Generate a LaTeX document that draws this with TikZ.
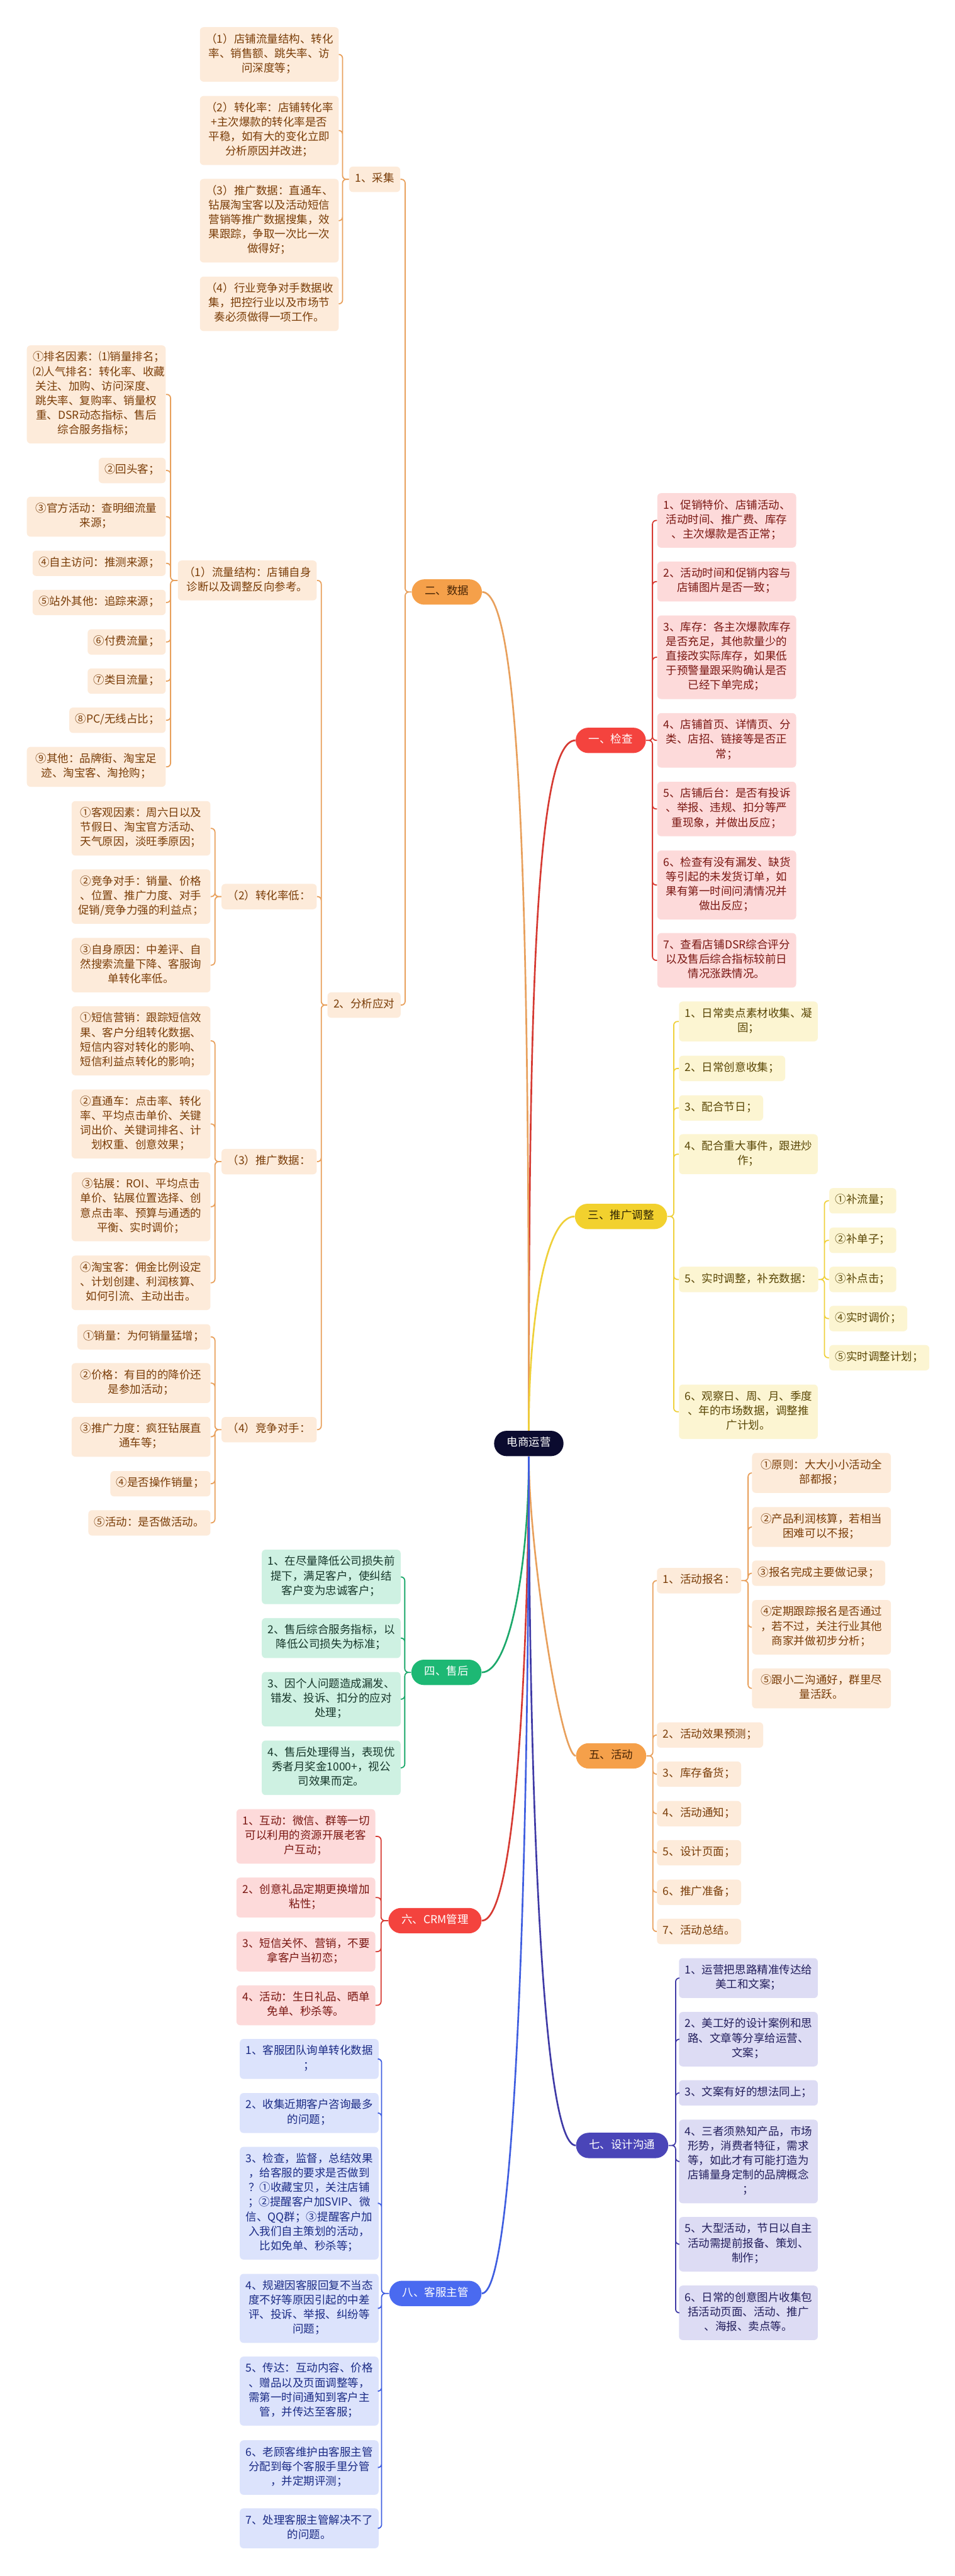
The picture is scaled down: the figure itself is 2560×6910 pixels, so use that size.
\documentclass[tikz,border=0pt]{standalone}
\usepackage{fontspec}
\setmainfont{Noto Sans CJK SC}
\usepackage{tikz}
\usetikzlibrary{calc}

\definecolor{rootfill}{HTML}{0B0B2F}
\definecolor{oHub}{HTML}{F5A04A}
\definecolor{oFill}{HTML}{FDEBDA}
\definecolor{oText}{HTML}{7A3D08}
\definecolor{oLine}{HTML}{E8A05C}
\definecolor{rHub}{HTML}{F4433E}
\definecolor{rFill}{HTML}{FDDADA}
\definecolor{rText}{HTML}{7A1712}
\definecolor{rLine}{HTML}{D63A32}
\definecolor{yHub}{HTML}{F2D12E}
\definecolor{yFill}{HTML}{FCF5D2}
\definecolor{yText}{HTML}{5A4706}
\definecolor{yLine}{HTML}{EFD03A}
\definecolor{gHub}{HTML}{1DB874}
\definecolor{gFill}{HTML}{CEF1E2}
\definecolor{gText}{HTML}{16362A}
\definecolor{gLine}{HTML}{1CA86B}
\definecolor{iHub}{HTML}{4A45B8}
\definecolor{iFill}{HTML}{DDDCF4}
\definecolor{iText}{HTML}{221E5C}
\definecolor{iLine}{HTML}{3F3AA6}
\definecolor{bHub}{HTML}{4A6AF0}
\definecolor{bFill}{HTML}{DCE3FC}
\definecolor{bText}{HTML}{1B2B85}
\definecolor{bLine}{HTML}{3F5EE0}

\newcommand\mapfont{\fontsize{8.4pt}{11.1pt}\selectfont}

\begin{document}
\begin{tikzpicture}[x=0.01cm, y=-0.01cm,
  box/.style={font=\mapfont, align=center, inner xsep=0.16cm, inner ysep=0.145cm,
    rounded corners=0.1cm, execute at begin node=\strut, execute at end node=\strut},
  leaf/.style={box, text width=3.4cm, fill=#1Fill, text=#1Text},
  tag/.style={box, fill=#1Fill, text=#1Text},
  hub/.style={box, inner xsep=0.35cm, rounded corners=0.34cm, fill=#1Hub},
  root/.style={box, inner xsep=0.34cm, rounded corners=0.34cm, fill=rootfill, text=white},
  link/.style={draw=#1Line, line width=0.03cm, rounded corners=0.1cm},
  trunk/.style={draw=#1Line, line width=0.045cm},
]
\fill[white] (0,0) rectangle (2560,6910);
\useasboundingbox (0,0) rectangle (2560,6910);

%==== Mitte ====
\node[root] (ds) at (1418,3872) {电商运营};

%==== 一、检查 ====
\node[hub=r, text=white, anchor=west] (jc) at (1543,1986) {一、检查};
\node[leaf=r, anchor=west] (jc1) at (1762,1396) {1、促销特价、店铺活动、\\活动时间、推广费、库存\\、主次爆款是否正常；};
\node[leaf=r, anchor=west] (jc2) at (1762,1560) {2、活动时间和促销内容与\\店铺图片是否一致；};
\node[leaf=r, anchor=west] (jc3) at (1762,1763) {3、库存：各主次爆款库存\\是否充足，其他款量少的\\直接改实际库存，如果低\\于预警量跟采购确认是否\\已经下单完成；};
\node[leaf=r, anchor=west] (jc4) at (1762,1986) {4、店铺首页、详情页、分\\类、店招、链接等是否正\\常；};
\node[leaf=r, anchor=west] (jc5) at (1762,2170) {5、店铺后台：是否有投诉\\、举报、违规、扣分等严\\重现象，并做出反应；};
\node[leaf=r, anchor=west] (jc6) at (1762,2374) {6、检查有没有漏发、缺货\\等引起的未发货订单，如\\果有第一时间问清情况并\\做出反应；};
\node[leaf=r, anchor=west] (jc7) at (1762,2576) {7、查看店铺DSR综合评分\\以及售后综合指标较前日\\情况涨跌情况。};
\draw[link=r] (jc.east) -- ++(17,0) |- (jc1.west) (jc.east) -- ++(17,0) |- (jc2.west)
  (jc.east) -- ++(17,0) |- (jc3.west) (jc.east) -- ++(17,0) |- (jc4.west)
  (jc.east) -- ++(17,0) |- (jc5.west) (jc.east) -- ++(17,0) |- (jc6.west)
  (jc.east) -- ++(17,0) |- (jc7.west);

%==== 二、数据 ====
\node[hub=o, text=oText!60!black, anchor=east] (sj) at (1293,1588) {二、数据};
\node[tag=o, anchor=east] (cj) at (1074,481) {1、采集};
\node[leaf=o, anchor=east] (cj1) at (909,146) {（1）店铺流量结构、转化\\率、销售额、跳失率、访\\问深度等；};
\node[leaf=o, anchor=east] (cj2) at (909,350) {（2）转化率：店铺转化率\\+主次爆款的转化率是否\\平稳，如有大的变化立即\\分析原因并改进；};
\node[leaf=o, anchor=east] (cj3) at (909,592) {（3）推广数据：直通车、\\钻展淘宝客以及活动短信\\营销等推广数据搜集，效\\果跟踪，争取一次比一次\\做得好；};
\node[leaf=o, anchor=east] (cj4) at (909,815) {（4）行业竞争对手数据收\\集，把控行业以及市场节\\奏必须做得一项工作。};
\node[tag=o, anchor=east] (fx) at (1075,2696) {2、分析应对};

\node[leaf=o, anchor=east] (ll) at (850,1557) {（1）流量结构：店铺自身\\诊断以及调整反向参考。};
\node[leaf=o, anchor=east] (ll1) at (445,1058) {①排名因素：⑴销量排名；\\⑵人气排名：转化率、收藏\\关注、加购、访问深度、\\跳失率、复购率、销量权\\重、DSR动态指标、售后\\综合服务指标；};
\node[tag=o, anchor=east] (ll2) at (445,1262) {②回头客；};
\node[leaf=o, anchor=east] (ll3) at (445,1386) {③官方活动：查明细流量\\来源；};
\node[tag=o, anchor=east] (ll4) at (445,1511) {④自主访问：推测来源；};
\node[tag=o, anchor=east] (ll5) at (445,1616) {⑤站外其他：追踪来源；};
\node[tag=o, anchor=east] (ll6) at (445,1722) {⑥付费流量；};
\node[tag=o, anchor=east] (ll7) at (445,1827) {⑦类目流量；};
\node[tag=o, anchor=east] (ll8) at (445,1932) {⑧PC/无线占比；};
\node[leaf=o, anchor=east] (ll9) at (445,2057) {⑨其他：品牌街、淘宝足\\迹、淘宝客、淘抢购；};

\node[tag=o, anchor=east, minimum width=2.53cm] (zh) at (850,2405) {（2）转化率低：};
\node[leaf=o, anchor=east] (zh1) at (565,2222) {①客观因素：周六日以及\\节假日、淘宝官方活动、\\天气原因，淡旺季原因；};
\node[leaf=o, anchor=east] (zh2) at (565,2405) {②竞争对手：销量、价格\\、位置、推广力度、对手\\促销/竞争力强的利益点；};
\node[leaf=o, anchor=east] (zh3) at (565,2589) {③自身原因：中差评、自\\然搜索流量下降、客服询\\单转化率低。};

\node[tag=o, anchor=east, minimum width=2.53cm] (tgs) at (850,3116) {（3）推广数据：};
\node[leaf=o, anchor=east] (tgs1) at (565,2792) {①短信营销：跟踪短信效\\果、客户分组转化数据、\\短信内容对转化的影响、\\短信利益点转化的影响；};
\node[leaf=o, anchor=east] (tgs2) at (565,3015) {②直通车：点击率、转化\\率、平均点击单价、关键\\词出价、关键词排名、计\\划权重、创意效果；};
\node[leaf=o, anchor=east] (tgs3) at (565,3237) {③钻展：ROI、平均点击\\单价、钻展位置选择、创\\意点击率、预算与通透的\\平衡、实时调价；};
\node[leaf=o, anchor=east] (tgs4) at (565,3441) {④淘宝客：佣金比例设定\\、计划创建、利润核算、\\如何引流、主动出击。};

\node[tag=o, anchor=east, minimum width=2.53cm] (jz) at (850,3835) {（4）竞争对手：};
\node[tag=o, anchor=east] (jz1) at (565,3586) {①销量：为何销量猛增；};
\node[leaf=o, anchor=east] (jz2) at (565,3710) {②价格：有目的的降价还\\是参加活动；};
\node[leaf=o, anchor=east] (jz3) at (565,3854) {③推广力度：疯狂钻展直\\通车等；};
\node[tag=o, anchor=east] (jz4) at (565,3980) {④是否操作销量；};
\node[tag=o, anchor=east] (jz5) at (565,4085) {⑤活动：是否做活动。};

\draw[link=o] (sj.west) -- ++(-17,0) |- (cj.east) (sj.west) -- ++(-17,0) |- (fx.east);
\draw[link=o] (cj.west) -- ++(-17,0) |- (cj1.east) (cj.west) -- ++(-17,0) |- (cj2.east)
  (cj.west) -- ++(-17,0) |- (cj3.east) (cj.west) -- ++(-17,0) |- (cj4.east);
\draw[link=o] (fx.west) -- ++(-16,0) |- (ll.east) (fx.west) -- ++(-16,0) |- (zh.east)
  (fx.west) -- ++(-16,0) |- (tgs.east) (fx.west) -- ++(-16,0) |- (jz.east);
\draw[link=o] (ll.west) -- ++(-19,0) |- (ll1.east) (ll.west) -- ++(-19,0) |- (ll2.east)
  (ll.west) -- ++(-19,0) |- (ll3.east) (ll.west) -- ++(-19,0) |- (ll4.east)
  (ll.west) -- ++(-19,0) |- (ll5.east) (ll.west) -- ++(-19,0) |- (ll6.east)
  (ll.west) -- ++(-19,0) |- (ll7.east) (ll.west) -- ++(-19,0) |- (ll8.east)
  (ll.west) -- ++(-19,0) |- (ll9.east);
\draw[link=o] (zh.west) -- ++(-17,0) |- (zh1.east) (zh.west) -- ++(-17,0) |- (zh2.east)
  (zh.west) -- ++(-17,0) |- (zh3.east);
\draw[link=o] (tgs.west) -- ++(-17,0) |- (tgs1.east) (tgs.west) -- ++(-17,0) |- (tgs2.east)
  (tgs.west) -- ++(-17,0) |- (tgs3.east) (tgs.west) -- ++(-17,0) |- (tgs4.east);
\draw[link=o] (jz.west) -- ++(-17,0) |- (jz1.east) (jz.west) -- ++(-17,0) |- (jz2.east)
  (jz.west) -- ++(-17,0) |- (jz3.east) (jz.west) -- ++(-17,0) |- (jz4.east)
  (jz.west) -- ++(-17,0) |- (jz5.east);

%==== 三、推广调整 ====
\node[hub=y, text=yText!50!black, anchor=west] (tg) at (1541,3263) {三、推广调整};
\node[leaf=y, anchor=west] (tg1) at (1820,2740) {1、日常卖点素材收集、凝\\固；};
\node[tag=y, anchor=west] (tg2) at (1820,2866) {2、日常创意收集；};
\node[tag=y, anchor=west] (tg3) at (1820,2972) {3、配合节日；};
\node[leaf=y, anchor=west] (tg4) at (1820,3096) {4、配合重大事件，跟进炒\\作；};
\node[tag=y, anchor=west] (tg5) at (1820,3432) {5、实时调整，补充数据：};
\node[leaf=y, anchor=west] (tg6) at (1820,3787) {6、观察日、周、月、季度\\、年的市场数据，调整推\\广计划。};
\node[tag=y, anchor=west] (tg5a) at (2223,3221) {①补流量；};
\node[tag=y, anchor=west] (tg5b) at (2223,3327) {②补单子；};
\node[tag=y, anchor=west] (tg5c) at (2223,3432) {③补点击；};
\node[tag=y, anchor=west] (tg5d) at (2223,3537) {④实时调价；};
\node[tag=y, anchor=west] (tg5e) at (2223,3642) {⑤实时调整计划；};
\draw[link=y] (tg.east) -- ++(17,0) |- (tg1.west) (tg.east) -- ++(17,0) |- (tg2.west)
  (tg.east) -- ++(17,0) |- (tg3.west) (tg.east) -- ++(17,0) |- (tg4.west)
  (tg.east) -- ++(17,0) |- (tg5.west) (tg.east) -- ++(17,0) |- (tg6.west);
\draw[link=y] (tg5.east) -- ++(16,0) |- (tg5a.west) (tg5.east) -- ++(16,0) |- (tg5b.west)
  (tg5.east) -- ++(16,0) |- (tg5c.west) (tg5.east) -- ++(16,0) |- (tg5d.west)
  (tg5.east) -- ++(16,0) |- (tg5e.west);

%==== 四、售后 ====
\node[hub=g, text=white, anchor=east] (sh) at (1292,4486) {四、售后};
\node[leaf=g, anchor=east] (sh1) at (1075,4230) {1、在尽量降低公司损失前\\提下，满足客户，使纠结\\客户变为忠诚客户；};
\node[leaf=g, anchor=east] (sh2) at (1075,4394) {2、售后综合服务指标，以\\降低公司损失为标准；};
\node[leaf=g, anchor=east] (sh3) at (1075,4558) {3、因个人问题造成漏发、\\错发、投诉、扣分的应对\\处理；};
\node[leaf=g, anchor=east] (sh4) at (1075,4742) {4、售后处理得当，表现优\\秀者月奖金1000+，视公\\司效果而定。};
\draw[link=g] (sh.west) -- ++(-17,0) |- (sh1.east) (sh.west) -- ++(-17,0) |- (sh2.east)
  (sh.west) -- ++(-17,0) |- (sh3.east) (sh.west) -- ++(-17,0) |- (sh4.east);

%==== 五、活动 ====
\node[hub=o, text=oText!60!black, anchor=west] (hd) at (1544,4710) {五、活动};
\node[tag=o, anchor=west] (hd1) at (1761,4240) {1、活动报名：};
\node[tag=o, anchor=west] (hd2) at (1761,4654) {2、活动效果预测；};
\node[tag=o, anchor=west, minimum width=2.22cm] (hd3) at (1761,4759) {3、库存备货；};
\node[tag=o, anchor=west, minimum width=2.22cm] (hd4) at (1761,4865) {4、活动通知；};
\node[tag=o, anchor=west, minimum width=2.22cm] (hd5) at (1761,4970) {5、设计页面；};
\node[tag=o, anchor=west, minimum width=2.22cm] (hd6) at (1761,5076) {6、推广准备；};
\node[tag=o, anchor=west, minimum width=2.22cm] (hd7) at (1761,5181) {7、活动总结。};
\node[leaf=o, anchor=west] (hd1a) at (2016,3951) {①原则：大大小小活动全\\部都报；};
\node[leaf=o, anchor=west] (hd1b) at (2016,4096) {②产品利润核算，若相当\\困难可以不报；};
\node[tag=o, anchor=west] (hd1c) at (2016,4220) {③报名完成主要做记录；};
\node[leaf=o, anchor=west] (hd1d) at (2016,4365) {④定期跟踪报名是否通过\\，若不过，关注行业其他\\商家并做初步分析；};
\node[leaf=o, anchor=west] (hd1e) at (2016,4529) {⑤跟小二沟通好，群里尽\\量活跃。};
\draw[link=o] (hd.east) -- ++(17,0) |- (hd1.west) (hd.east) -- ++(17,0) |- (hd2.west)
  (hd.east) -- ++(17,0) |- (hd3.west) (hd.east) -- ++(17,0) |- (hd4.west)
  (hd.east) -- ++(17,0) |- (hd5.west) (hd.east) -- ++(17,0) |- (hd6.west)
  (hd.east) -- ++(17,0) |- (hd7.west);
\draw[link=o] (hd1.east) -- ++(18,0) |- (hd1a.west) (hd1.east) -- ++(18,0) |- (hd1b.west)
  (hd1.east) -- ++(18,0) |- (hd1c.west) (hd1.east) -- ++(18,0) |- (hd1d.west)
  (hd1.east) -- ++(18,0) |- (hd1e.west);

%==== 六、CRM管理 ====
\node[hub=r, text=white, anchor=east] (crm) at (1292,5152) {六、CRM管理};
\node[leaf=r, anchor=east] (crm1) at (1007,4926) {1、互动：微信、群等一切\\可以利用的资源开展老客\\户互动；};
\node[leaf=r, anchor=east] (crm2) at (1007,5090) {2、创意礼品定期更换增加\\粘性；};
\node[leaf=r, anchor=east] (crm3) at (1007,5235) {3、短信关怀、营销，不要\\拿客户当初恋；};
\node[leaf=r, anchor=east] (crm4) at (1007,5379) {4、活动：生日礼品、晒单\\免单、秒杀等。};
\draw[link=r] (crm.west) -- ++(-19,0) |- (crm1.east) (crm.west) -- ++(-19,0) |- (crm2.east)
  (crm.west) -- ++(-19,0) |- (crm3.east) (crm.west) -- ++(-19,0) |- (crm4.east);

%==== 七、设计沟通 ====
\node[hub=i, text=white, anchor=west] (sjgt) at (1544,5755) {七、设计沟通};
\node[leaf=i, anchor=west] (sjg1) at (1820,5306) {1、运营把思路精准传达给\\美工和文案；};
\node[leaf=i, anchor=west] (sjg2) at (1820,5470) {2、美工好的设计案例和思\\路、文章等分享给运营、\\文案；};
\node[leaf=i, anchor=west] (sjg3) at (1820,5614) {3、文案有好的想法同上；};
\node[leaf=i, anchor=west] (sjg4) at (1820,5798) {4、三者须熟知产品，市场\\形势，消费者特征，需求\\等，如此才有可能打造为\\店铺量身定制的品牌概念\\；};
\node[leaf=i, anchor=west] (sjg5) at (1820,6020) {5、大型活动，节日以自主\\活动需提前报备、策划、\\制作；};
\node[leaf=i, anchor=west] (sjg6) at (1820,6204) {6、日常的创意图片收集包\\括活动页面、活动、推广\\、海报、卖点等。};
\draw[link=i] (sjgt.east) -- ++(19,0) |- (sjg1.west) (sjgt.east) -- ++(19,0) |- (sjg2.west)
  (sjgt.east) -- ++(19,0) |- (sjg3.west) (sjgt.east) -- ++(19,0) |- (sjg4.west)
  (sjgt.east) -- ++(19,0) |- (sjg5.west) (sjgt.east) -- ++(19,0) |- (sjg6.west);

%==== 八、客服主管 ====
\node[hub=b, text=white, anchor=east] (kf) at (1292,6152) {八、客服主管};
\node[leaf=b, anchor=east] (kf1) at (1016,5523) {1、客服团队询单转化数据\\；};
\node[leaf=b, anchor=east] (kf2) at (1016,5668) {2、收集近期客户咨询最多\\的问题；};
\node[leaf=b, anchor=east] (kf3) at (1016,5910) {3、检查，监督，总结效果\\，给客服的要求是否做到\\？①收藏宝贝，关注店铺\\；②提醒客户加SVIP、微\\信、QQ群；③提醒客户加\\入我们自主策划的活动，\\比如免单、秒杀等；};
\node[leaf=b, anchor=east] (kf4) at (1016,6192) {4、规避因客服回复不当态\\度不好等原因引起的中差\\评、投诉、举报、纠纷等\\问题；};
\node[leaf=b, anchor=east] (kf5) at (1016,6414) {5、传达：互动内容、价格\\、赠品以及页面调整等，\\需第一时间通知到客户主\\管，并传达至客服；};
\node[leaf=b, anchor=east] (kf6) at (1016,6619) {6、老顾客维护由客服主管\\分配到每个客服手里分管\\，并定期评测；};
\node[leaf=b, anchor=east] (kf7) at (1016,6782) {7、处理客服主管解决不了\\的问题。};
\draw[link=b] (kf.west) -- ++(-20,0) |- (kf1.east) (kf.west) -- ++(-20,0) |- (kf2.east)
  (kf.west) -- ++(-20,0) |- (kf3.east) (kf.west) -- ++(-20,0) |- (kf4.east)
  (kf.west) -- ++(-20,0) |- (kf5.east) (kf.west) -- ++(-20,0) |- (kf6.east)
  (kf.west) -- ++(-20,0) |- (kf7.east);

%==== Hauptäste ====
\draw[trunk=r] (ds.north) .. controls +(0,-1100) and +(-110,0) .. (jc.west);
\draw[trunk=o] (ds.north) .. controls +(0,-1300) and +(110,0) .. (sj.east);
\draw[trunk=y] (ds.north) .. controls +(0,-290) and +(-80,0) .. (tg.west);
\draw[trunk=g] (ds.south) .. controls +(0,290) and +(75,0) .. (sh.east);
\draw[trunk=o] (ds.south) .. controls +(0,250) and +(-40,0) .. (hd.west);
\draw[trunk=r] (ds.south) .. controls +(0,400) and +(100,0) .. (crm.east);
\draw[trunk=i] (ds.south) .. controls +(0,700) and +(-100,0) .. (sjgt.west);
\draw[trunk=b] (ds.south) .. controls +(0,850) and +(100,0) .. (kf.east);

\end{tikzpicture}
\end{document}
